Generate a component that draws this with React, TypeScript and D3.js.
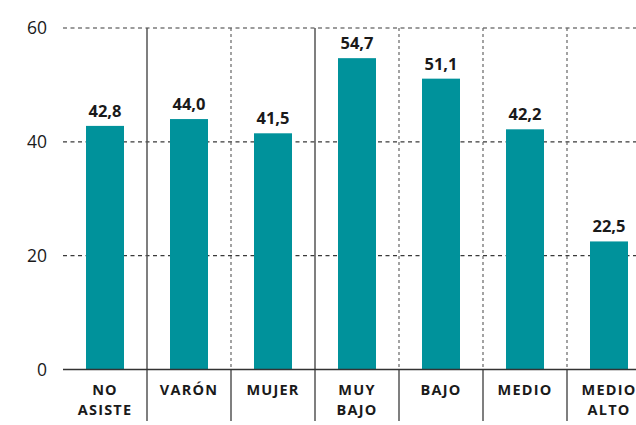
import React, { useEffect, useRef } from 'react';
import * as d3 from 'd3';

const categories = ['NO ASISTE', 'VARÓN', 'MUJER', 'MUY BAJO', 'BAJO', 'MEDIO', 'MEDIO ALTO'];
const values = [42.8, 44.0, 41.5, 54.7, 51.1, 42.2, 22.5];
const yTicks = [0, 20, 40, 60];
// separator style after each category (except last): true = solid
const solidSeparators = [true, false, true, false, false, false];

const App: React.FC = () => {
    const ref = useRef<SVGSVGElement>(null);

    useEffect(() => {
        const svg = d3.select(ref.current);
        svg.selectAll('*').remove();

        const font = "'Open Sans', sans-serif";
        const left = 63;
        const step = 84;
        const x = d3.scaleBand<string>()
            .domain(categories)
            .range([left, left + step * categories.length])
            .paddingInner(0.5476)
            .paddingOuter(0.2738);
        const y = d3.scaleLinear().domain([0, 60]).range([369.5, 28]);
        const bottom = 421;

        // horizontal grid
        svg.append('g')
            .selectAll('line')
            .data(yTicks.filter(t => t > 0))
            .enter().append('line')
            .attr('x1', left).attr('x2', 636)
            .attr('y1', d => y(d)).attr('y2', d => y(d))
            .attr('stroke', '#3a3a3a')
            .attr('stroke-width', 1.2)
            .attr('stroke-dasharray', '4,3.5');

        // y tick labels
        svg.append('g')
            .selectAll('text')
            .data(yTicks)
            .enter().append('text')
            .attr('x', 47)
            .attr('y', d => y(d))
            .attr('dy', '0.35em')
            .attr('text-anchor', 'end')
            .attr('font-family', font)
            .attr('font-size', 17.5)
            .attr('font-weight', 500)
            .attr('fill', '#1a1a1a')
            .text(d => d);

        // separators
        const sepX = (i: number) => left + step * (i + 1);
        const sep = svg.append('g');
        sep.selectAll('line.top')
            .data(solidSeparators)
            .enter().append('line')
            .attr('class', 'top')
            .attr('x1', (d, i) => sepX(i)).attr('x2', (d, i) => sepX(i))
            .attr('y1', y(60)).attr('y2', y(0))
            .attr('stroke', d => d ? '#555' : '#666')
            .attr('stroke-width', d => d ? 1.5 : 1.2)
            .attr('stroke-dasharray', d => d ? null : '3,3');
        sep.selectAll('line.bot')
            .data(solidSeparators)
            .enter().append('line')
            .attr('class', 'bot')
            .attr('x1', (d, i) => sepX(i)).attr('x2', (d, i) => sepX(i))
            .attr('y1', y(0)).attr('y2', bottom)
            .attr('stroke', '#555')
            .attr('stroke-width', 1.5);

        // bars
        svg.append('g')
            .selectAll('rect')
            .data(values)
            .enter().append('rect')
            .attr('x', (d, i) => x(categories[i])!)
            .attr('width', x.bandwidth())
            .attr('y', d => y(d))
            .attr('height', d => y(0) - y(d))
            .attr('fill', '#00929B');

        // value labels
        svg.append('g')
            .selectAll('text')
            .data(values)
            .enter().append('text')
            .attr('x', (d, i) => x(categories[i])! + x.bandwidth() / 2)
            .attr('y', d => y(d) - 9)
            .attr('text-anchor', 'middle')
            .attr('font-family', font)
            .attr('font-size', 16.5)
            .attr('font-weight', 700)
            .attr('fill', '#1a1a1a')
            .text(d => d.toFixed(1).replace('.', ','));

        // baseline
        svg.append('line')
            .attr('x1', left).attr('x2', 636)
            .attr('y1', y(0)).attr('y2', y(0))
            .attr('stroke', '#333')
            .attr('stroke-width', 1.5);

        // category labels
        const cat = svg.append('g')
            .selectAll('text')
            .data(categories)
            .enter().append('text')
            .attr('text-anchor', 'middle')
            .attr('font-family', font)
            .attr('font-size', 14.5)
            .attr('font-weight', 700)
            .attr('letter-spacing', 1.2)
            .attr('fill', '#1a1a1a');
        cat.each(function (d) {
            const words = d.split(' ');
            const cx = x(d)! + x.bandwidth() / 2;
            d3.select(this).selectAll('tspan')
                .data(words)
                .enter().append('tspan')
                .attr('x', cx)
                .attr('y', (w, j) => 394.5 + j * 20)
                .text(w => w);
        });
    }, []);

    return (
        <svg
            ref={ref}
            width={636}
            height={425}
            style={{ position: 'absolute', left: 0, top: 0, background: '#fff' }}
        />
    );
};

export default App;
